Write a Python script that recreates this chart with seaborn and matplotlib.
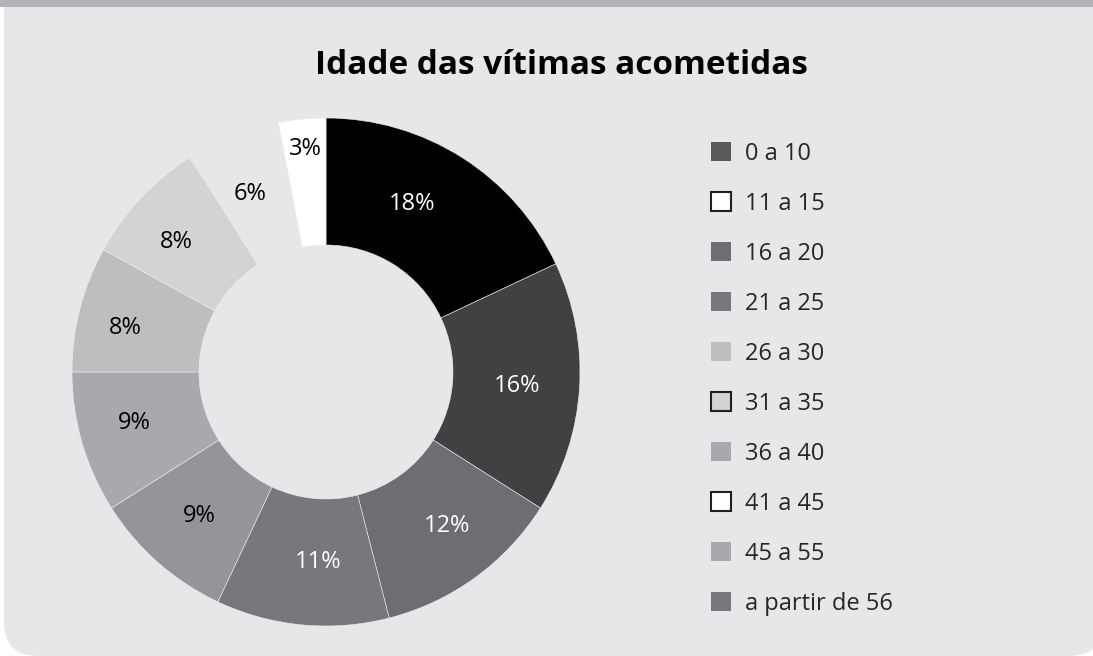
import matplotlib
matplotlib.use("Agg")
import matplotlib.pyplot as plt
import seaborn as sns
from matplotlib.patches import Patch, Rectangle, FancyBboxPatch
from matplotlib.transforms import IdentityTransform

# data
slice_values = [18, 16, 12, 11, 9, 9, 8, 8, 6, 3]
slice_colors = ["#000000", "#414042", "#6d6e71", "#77787b", "#939598",
                "#a7a9ac", "#bcbec0", "#d1d3d4", "#e6e7e8", "#ffffff"]
label_colors = ["white", "white", "white", "white", "black",
                "black", "black", "black", "black", "black"]
# where the percent labels sit in the reference (pixels)
label_px = [(412, 204), (517, 386), (447, 526), (318, 562), (199, 516),
            (134, 423), (125, 328), (176, 242), (250, 194), (305, 149)]

legend_labels = ["0 a 10", "11 a 15", "16 a 20", "21 a 25", "26 a 30",
                 "31 a 35", "36 a 40", "41 a 45", "45 a 55", "a partir de 56"]
legend_colors = ["#58595b", "#ffffff", "#6d6e71", "#77787b", "#bcbec0",
                 "#d1d3d4", "#a7a9ac", "#ffffff", "#a7a9ac", "#77787b"]
legend_edges = [False, True, False, False, False, True, False, True, False, False]

title = "Idade das vítimas acometidas"

sns.set_style("white")
plt.rcParams["font.family"] = ["Open Sans", "DejaVu Sans"]

W, H = 1093, 656
fig = plt.figure(figsize=(W / 100, H / 100), dpi=100, facecolor="white")

# panel background (pixel coords) with rounded bottom corners, plus top band
panel = FancyBboxPatch((4, 0), W + 6, H + 60,
                       boxstyle="round,pad=0,rounding_size=34",
                       transform=IdentityTransform(), facecolor="#e6e7e8",
                       edgecolor="none", zorder=-2)
fig.patches.append(panel)
fig.patches.append(Rectangle((0, H - 7), W, 7, transform=IdentityTransform(),
                             facecolor="#b1b3b6", edgecolor="none", zorder=-1))

# donut: centre (326, 372) px, outer radius 254 px
cx, cy, R, pad = 326, 372, 254, 262
ax = fig.add_axes([(cx - pad) / W, (H - cy - pad) / H, 2 * pad / W, 2 * pad / H])
ax.set_zorder(2)
ax.set_facecolor("none")
wedges, texts, autotexts = ax.pie(
    slice_values, colors=slice_colors, startangle=90, counterclock=False,
    radius=1, autopct="%d%%", pctdistance=0.75,
    wedgeprops=dict(width=0.5, edgecolor="#ededee", linewidth=0.4),
    textprops=dict(fontsize=17))
# the 6% slice is drawn in the background colour, no outline
wedges[8].set_edgecolor(slice_colors[8])
for t, c, (px, py) in zip(autotexts, label_colors, label_px):
    t.set_color(c)
    t.set_position(((px - cx) / R, (cy - py) / R))
ax.set_xlim(-pad / R, pad / R)
ax.set_ylim(-pad / R, pad / R)
ax.set_aspect("equal")
ax.axis("off")

fig.text(561 / W, 1 - 65 / H, title, ha="center", va="center",
         fontsize=24, fontweight="bold", color="black", zorder=3)

handles = [Patch(facecolor=c, edgecolor=("#231f20" if e else c), linewidth=(1.5 if e else 0))
           for c, e in zip(legend_colors, legend_edges)]
leg = fig.legend(handles, legend_labels, loc="upper left",
                 bbox_to_anchor=(711 / W, 1 - 142 / H), frameon=False,
                 fontsize=17, handlelength=0.85, handleheight=0.85,
                 handletextpad=0.6, labelspacing=1.1, borderpad=0, borderaxespad=0)
leg.set_zorder(3)

fig.savefig("out.png", dpi=100, facecolor=fig.get_facecolor())
